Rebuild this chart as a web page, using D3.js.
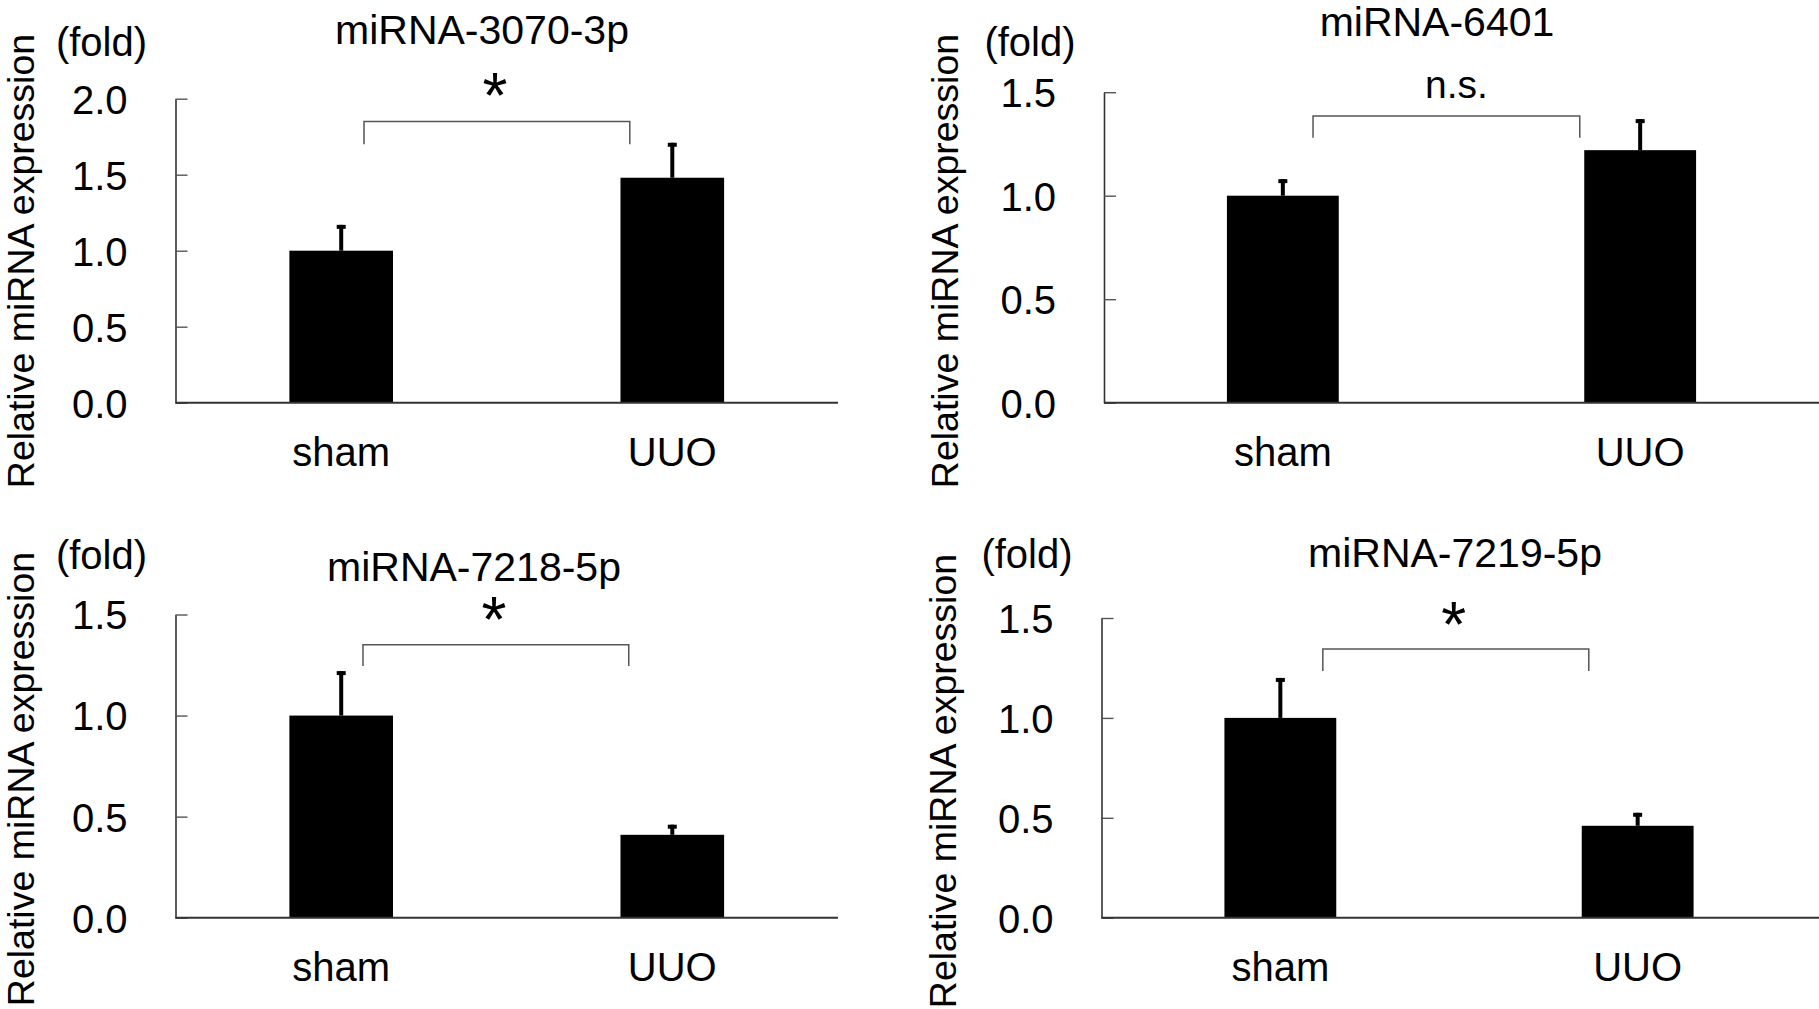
<!DOCTYPE html>
<html>
<head>
<meta charset="utf-8">
<script src="https://cdn.jsdelivr.net/npm/d3@7"></script>
<style>
  html, body { margin: 0; padding: 0; background: #fff; }
  svg { display: block; }
  text { font-family: "Liberation Sans", Arial, Helvetica, sans-serif; fill: #000; }
</style>
</head>
<body>
<svg id="chart" width="1819" height="1009"></svg>
<script>
// ---------------- data ----------------
const categories = ["sham", "UUO"];
const titles = ["miRNA-3070-3p", "miRNA-6401", "miRNA-7218-5p", "miRNA-7219-5p"];

const means3070 = [1.00, 1.48];
const errs3070  = [0.17, 0.23];
const means6401 = [1.00, 1.22];
const errs6401  = [0.08, 0.15];
const means7218 = [1.00, 0.41];
const errs7218  = [0.22, 0.05];
const means7219 = [1.00, 0.46];
const errs7219  = [0.20, 0.065];

const yMaxes = [2.0, 1.5, 1.5, 1.5];
const ticks3070 = [0.0, 0.5, 1.0, 1.5, 2.0];
const ticks15   = [0.0, 0.5, 1.0, 1.5];

const sigLabels    = ["*", "n.s.", "*", "*"];
const bracketTop   = [1.85, 1.385, 1.35, 1.345];   // bracket level (data units)
const bracketFoot  = [1.70, 1.28, 1.245, 1.235];   // where bracket legs end
const sigLevel     = [2.07, 1.47, 1.51, 1.50];     // annotation level

const yAxisTitle = "Relative miRNA expression";
const unitLabel = "(fold)";

// ---------------- layout ----------------
const panels = [
  { means: means3070, errs: errs3070, ticks: ticks3070,
    x0: 175.5, x1: 838, lineEnd: 838, yb: 402.7, yt: 98.7,
    titleX: 482, titleY: 44, foldX: 101.5, foldY: 56, labX: 34, labCY: 261, catY: 466,
    brL: 0.72, brR: 0.09, sigDX: -2 },
  { means: means6401, errs: errs6401, ticks: ticks15,
    x0: 1104, x1: 1819, lineEnd: 1819, yb: 402.7, yt: 92.2,
    titleX: 1437, titleY: 36, foldX: 1030, foldY: 56, labX: 958, labCY: 261, catY: 466,
    brL: 0.77, brR: -0.04, sigDX: 10 },
  { means: means7218, errs: errs7218, ticks: ticks15,
    x0: 175.5, x1: 838, lineEnd: 838, yb: 917.7, yt: 614.5,
    titleX: 474, titleY: 580.7, foldX: 101.5, foldY: 569, labX: 34, labCY: 779, catY: 981,
    brL: 0.71, brR: 0.08, sigDX: -2 },
  { means: means7219, errs: errs7219, ticks: ticks15,
    x0: 1101.5, x1: 1816.5, lineEnd: 1819, yb: 917.7, yt: 618,
    titleX: 1455, titleY: 567, foldX: 1027, foldY: 568, labX: 956, labCY: 781, catY: 981,
    brL: 0.88, brR: 0.063, sigDX: -2 }
];

const svg = d3.select("#chart");
svg.append("rect").attr("width", 1819).attr("height", 1009).attr("fill", "#fff");

panels.forEach((p, i) => {
  const g = svg.append("g");
  const x = d3.scaleBand().domain(categories).range([p.x0, p.x1])
    .paddingInner(0.687).paddingOuter(0.344);
  const y = d3.scaleLinear().domain([0, yMaxes[i]]).range([p.yb, p.yt]);
  const bw = x.bandwidth();

  // y axis
  const yAxis = d3.axisLeft(y).tickValues(p.ticks).tickFormat(d3.format(".1f"))
    .tickSizeInner(-12).tickSizeOuter(0).tickPadding(48);
  const ag = g.append("g").attr("transform", `translate(${p.x0},0)`).call(yAxis);
  ag.select(".domain").attr("stroke", "#333").attr("stroke-width", 1.6);
  ag.selectAll(".tick line").attr("stroke", "#555").attr("stroke-width", 1.4);
  ag.selectAll(".tick text").attr("font-size", 40).attr("fill", "#000")
    .attr("font-family", '"Liberation Sans", Arial, sans-serif').attr("dy", "0.36em");

  // bars
  g.selectAll("rect.bar").data(categories).enter().append("rect")
    .attr("class", "bar")
    .attr("x", d => x(d))
    .attr("width", bw)
    .attr("y", (d, k) => y(p.means[k]))
    .attr("height", (d, k) => y(0) - y(p.means[k]))
    .attr("fill", "#000");

  // error bars
  categories.forEach((c, k) => {
    const cx = x(c) + bw / 2;
    const top = y(p.means[k] + p.errs[k]);
    g.append("line").attr("x1", cx).attr("x2", cx)
      .attr("y1", y(p.means[k])).attr("y2", top)
      .attr("stroke", "#000").attr("stroke-width", 4);
    g.append("line").attr("x1", cx - 4.5).attr("x2", cx + 4.5)
      .attr("y1", top + 2).attr("y2", top + 2)
      .attr("stroke", "#000").attr("stroke-width", 4);
  });

  // x axis line
  g.append("line").attr("x1", p.x0).attr("x2", p.lineEnd)
    .attr("y1", y(0)).attr("y2", y(0))
    .attr("stroke", "#333").attr("stroke-width", 2);

  // category labels
  g.selectAll("text.cat").data(categories).enter().append("text")
    .attr("class", "cat")
    .attr("x", d => x(d) + bw / 2).attr("y", p.catY)
    .attr("text-anchor", "middle").attr("font-size", 40)
    .text(d => d);

  // significance bracket
  const bl = x(categories[0]) + p.brL * bw;
  const br = x(categories[1]) + p.brR * bw;
  const by = y(bracketTop[i]), bf = y(bracketFoot[i]);
  g.append("path")
    .attr("d", `M${bl},${bf}V${by}H${br}V${bf}`)
    .attr("fill", "none").attr("stroke", "#555").attr("stroke-width", 1.5);

  const sx = (bl + br) / 2 + p.sigDX;
  if (sigLabels[i] === "*") {
    g.append("text").attr("x", sx).attr("y", y(sigLevel[i]))
      .attr("text-anchor", "middle").attr("dy", "0.46em")
      .attr("font-size", 64).style("font-family", '"Liberation Sans", Arial, sans-serif')
      .text(sigLabels[i]);
  } else {
    g.append("text").attr("x", sx).attr("y", y(sigLevel[i]))
      .attr("text-anchor", "middle").attr("font-size", 39)
      .text(sigLabels[i]);
  }

  // title
  g.append("text").attr("x", p.titleX).attr("y", p.titleY)
    .attr("text-anchor", "middle").attr("font-size", 41).text(titles[i]);

  // unit label
  g.append("text").attr("x", p.foldX).attr("y", p.foldY)
    .attr("text-anchor", "middle").attr("font-size", 40).text(unitLabel);

  // y axis title
  g.append("text")
    .attr("transform", `translate(${p.labX},${p.labCY}) rotate(-90)`)
    .attr("text-anchor", "middle").attr("font-size", 37.5).text(yAxisTitle);
});
</script>
</body>
</html>
